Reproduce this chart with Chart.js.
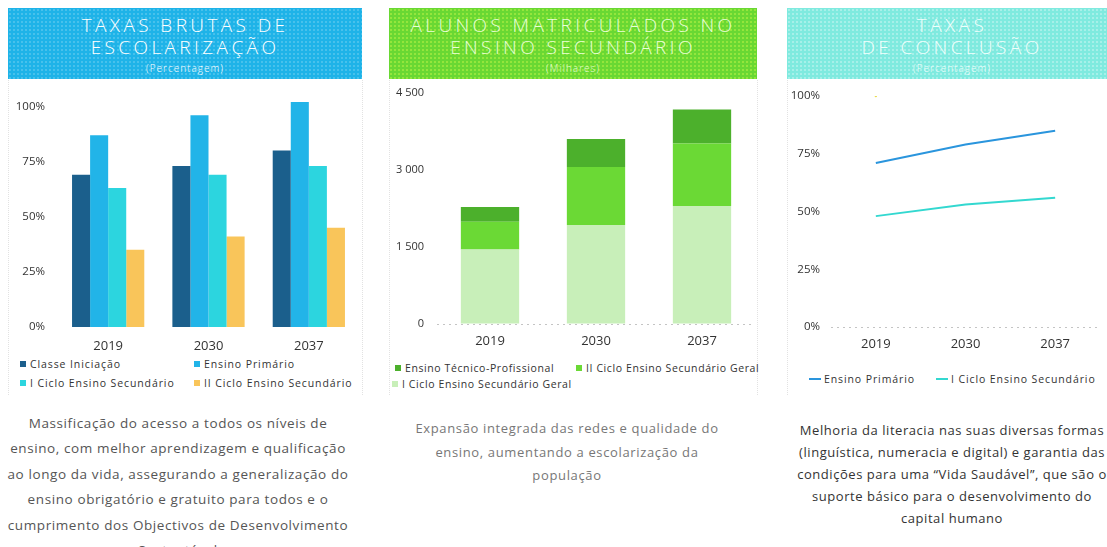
<!DOCTYPE html>
<html>
<head>
<meta charset="utf-8">
<script src="https://cdn.jsdelivr.net/npm/chart.js@4.4.1/dist/chart.umd.min.js"></script>
<style>
html,body{margin:0;padding:0;background:#fff;}
body{width:1107px;height:547px;overflow:hidden;position:relative;font-family:"Open Sans",sans-serif;}
.hdr{position:absolute;top:8px;height:71px;color:#fff;text-align:center;font-weight:300;white-space:nowrap;overflow:hidden;box-sizing:border-box;padding-top:6px;}
.hdr .t{font-size:19px;letter-spacing:3.4px;line-height:22px;}
.hdr .s{font-size:10px;letter-spacing:1px;line-height:14px;margin-top:3px;}
#h1{left:8px;width:354px;background-color:#1eb3e8;background-image:radial-gradient(rgba(255,255,255,0.18) 0.8px,transparent 1.2px);background-size:4px 4px;}
#h2{left:389px;width:368px;background-color:#69d833;background-image:radial-gradient(rgba(230,255,80,0.35) 0.8px,transparent 1.2px);background-size:4px 4px;color:#eaffd8;}
#h3{left:787px;width:330px;background-color:#7feadf;background-image:radial-gradient(rgba(255,255,255,0.3) 0.8px,transparent 1.2px);background-size:4px 4px;color:#f0fffc;}
.frame{position:absolute;top:80px;height:315px;border-left:1px dotted #e2e2e2;border-right:1px dotted #e2e2e2;box-sizing:border-box;}
.box{position:absolute;}
.leg{position:absolute;font-size:10.5px;letter-spacing:0.9px;color:#333;white-space:nowrap;line-height:12px;}
.leg.l2{letter-spacing:0.6px;}
.leg .sq{display:inline-block;width:6px;height:6px;margin-right:4px;vertical-align:1px;}
.leg .ln{display:inline-block;width:12px;height:2px;margin-right:3px;vertical-align:3px;}
.txt{position:absolute;text-align:center;white-space:nowrap;}
</style>
</head>
<body>
<div id="h1" class="hdr"><div class="t">TAXAS BRUTAS DE</div><div class="t">ESCOLARIZAÇÃO</div><div class="s">(Percentagem)</div></div>
<div id="h2" class="hdr"><div class="t">ALUNOS MATRICULADOS NO</div><div class="t">ENSINO SECUNDÁRIO</div><div class="s">(Milhares)</div></div>
<div id="h3" class="hdr"><div class="t">TAXAS</div><div class="t">DE CONCLUSÃO</div><div class="s">(Percentagem)</div></div>

<div class="frame" style="left:8px;width:355px;"></div>
<div class="frame" style="left:389px;width:369px;"></div>
<div class="frame" style="left:787px;width:330px;border-right:none;"></div>

<div class="box" style="left:8px;top:88px;width:354px;height:267px;"><canvas id="c1"></canvas></div>
<div class="box" style="left:389px;top:84px;width:368px;height:266px;"><canvas id="c2"></canvas></div>
<div class="box" style="left:787px;top:84px;width:320px;height:271px;"><canvas id="c3"></canvas></div>

<div id="legends"></div>

<div class="txt" style="left:-12px;width:380px;top:410.5px;font-size:13.5px;line-height:25.5px;color:#555;letter-spacing:0.6px;">Massificação do acesso a todos os níveis de<br>ensino, com melhor aprendizagem e qualificação<br>ao longo da vida, assegurando a generalização do<br>ensino obrigatório e gratuito para todos e o<br>cumprimento dos Objectivos de Desenvolvimento<br>Sustentável</div>
<div class="txt" style="left:377px;width:380px;top:417px;font-size:13px;line-height:23.5px;color:#777;letter-spacing:0.65px;">Expansão integrada das redes e qualidade do<br>ensino, aumentando a escolarização da<br>população</div>
<div class="txt" style="left:762px;width:380px;top:419px;font-size:13px;line-height:22px;color:#333;letter-spacing:0.55px;">Melhoria da literacia nas suas diversas formas<br>(linguística, numeracia e digital) e garantia das<br>condições para uma “Vida Saudável”, que são o<br>suporte básico para o desenvolvimento do<br>capital humano</div>

<script>
// ---------- DATA ----------
const years = ['2019', '2030', '2037'];

// Chart 1: Taxas brutas de escolarização (%)
const pctTicks = [0, 25, 50, 75, 100];
const pctTickLabels = ['0%', '25%', '50%', '75%', '100%'];
const seriesNames1 = ['Classe Iniciação', 'Ensino Primário', 'I Ciclo Ensino Secundário', 'II Ciclo Ensino Secundário'];
const classeIniciacao = [69, 73, 80];
const ensinoPrimario = [87, 96, 102];
const iCicloSecundario = [63, 69, 73];
const iiCicloSecundario = [35, 41, 45];

// Chart 2: Alunos matriculados no ensino secundário (milhares)
const milTicks = [0, 1500, 3000, 4500];
const milTickLabels = ['0', '1 500', '3 000', '4 500'];
const seriesNames2 = ['Ensino Técnico-Profissional', 'II Ciclo Ensino Secundário Geral', 'I Ciclo Ensino Secundário Geral'];
const tecnicoProfissional = [290, 545, 665];
const iiCicloGeral = [540, 1130, 1215];
const iCicloGeral = [1450, 1930, 2300];

// Chart 3: Taxas de conclusão (%)
const seriesNames3 = ['Ensino Primário', 'I Ciclo Ensino Secundário'];
const conclusaoPrimario = [71, 79, 85];
const conclusaoICiclo = [48, 53, 56];
const conclusaoPontoIsolado = [100, null, null];

// ---------- STYLE ----------
Chart.defaults.font.family = '"Open Sans", sans-serif';
Chart.defaults.color = '#333';
Chart.defaults.animation = false;

const fixedTicks = (vals) => (scale) => { scale.ticks = vals.map(v => ({ value: v })); };
const fitY = (w) => (s) => { s.width = w; s.paddingTop = 0; s.paddingBottom = 0; };
const fitX = (h) => (s) => { s.height = h; s.paddingLeft = 0; s.paddingRight = 0; };
const baselineGrid = () => ({
  display: true, drawTicks: false,
  color: (c) => (c.tick && c.tick.value === 0 ? '#c4c4c4' : 'rgba(0,0,0,0)'),
  lineWidth: 1
});

// Chart 1
const chart1 = new Chart(document.getElementById('c1'), {
  type: 'bar',
  data: {
    labels: years,
    datasets: [
      { label: seriesNames1[0], data: classeIniciacao, backgroundColor: '#1b5f8c' },
      { label: seriesNames1[1], data: ensinoPrimario, backgroundColor: '#22b4e8' },
      { label: seriesNames1[2], data: iCicloSecundario, backgroundColor: '#2cd5df' },
      { label: seriesNames1[3], data: iiCicloSecundario, backgroundColor: '#f9c55a' }
    ]
  },
  options: {
    responsive: true, maintainAspectRatio: false,
    layout: { padding: { top: 7.5, right: 3, left: 0, bottom: 0 } },
    datasets: { bar: { categoryPercentage: 0.72, barPercentage: 1.0 } },
    plugins: { legend: { display: false }, tooltip: { enabled: false } },
    scales: {
      x: {
        grid: { display: false, drawTicks: false }, border: { display: false },
        ticks: { padding: 11, font: { size: 13 }, color: '#333' },
        afterFit: fitX(28)
      },
      y: {
        min: 0, max: 105,
        grid: { display: false, drawTicks: false }, border: { display: false },
        afterBuildTicks: fixedTicks(pctTicks),
        ticks: { padding: 13, font: { size: 11.5 }, color: '#333', callback: (v, i) => pctTickLabels[i] },
        afterFit: fitY(50)
      }
    }
  }
});

// Chart 2 (stacked; first dataset at the bottom)
const chart2 = new Chart(document.getElementById('c2'), {
  type: 'bar',
  data: {
    labels: years,
    datasets: [
      { label: seriesNames2[2], data: iCicloGeral, backgroundColor: '#c8efb9' },
      { label: seriesNames2[1], data: iiCicloGeral, backgroundColor: '#6bd935' },
      { label: seriesNames2[0], data: tecnicoProfissional, backgroundColor: '#4cb02c' }
    ]
  },
  options: {
    responsive: true, maintainAspectRatio: false,
    layout: { padding: { top: 9, right: 2, left: 0, bottom: 0 } },
    datasets: { bar: { categoryPercentage: 1.0, barPercentage: 0.55 } },
    plugins: { legend: { display: false }, tooltip: { enabled: false } },
    scales: {
      x: {
        stacked: true,
        grid: { display: false, drawTicks: false }, border: { display: false },
        ticks: { padding: 9, font: { size: 13 }, color: '#333' },
        afterFit: fitX(26)
      },
      y: {
        stacked: true, min: 0, max: 4500,
        grid: baselineGrid(), border: { display: false, dash: [2, 4] },
        afterBuildTicks: fixedTicks(milTicks),
        ticks: { padding: 13, font: { size: 11 }, color: '#333', callback: (v, i) => milTickLabels[i] },
        afterFit: fitY(48)
      }
    }
  }
});

// Chart 3
const chart3 = new Chart(document.getElementById('c3'), {
  type: 'line',
  data: {
    labels: years,
    datasets: [
      { label: seriesNames3[0], data: conclusaoPrimario, borderColor: '#2a95dd', backgroundColor: '#2a95dd', borderWidth: 2, pointRadius: 0, tension: 0 },
      { label: seriesNames3[1], data: conclusaoICiclo, borderColor: '#33d8d0', backgroundColor: '#33d8d0', borderWidth: 2, pointRadius: 0, tension: 0 },
      { label: '', data: conclusaoPontoIsolado, borderColor: '#e8dc50', backgroundColor: '#e8dc50', borderWidth: 0, pointRadius: 1.2, showLine: false }
    ]
  },
  options: {
    responsive: true, maintainAspectRatio: false,
    layout: { padding: { top: 12, right: 7, left: 0, bottom: 0 }, autoPadding: false },
    plugins: { legend: { display: false }, tooltip: { enabled: false } },
    scales: {
      x: {
        offset: true,
        grid: { display: false, drawTicks: false }, border: { display: false },
        ticks: { padding: 9, font: { size: 13 }, color: '#333' },
        afterFit: fitX(28)
      },
      y: {
        min: 0, max: 100,
        grid: baselineGrid(), border: { display: false, dash: [2, 4] },
        afterBuildTicks: fixedTicks(pctTicks),
        ticks: { padding: 11, font: { size: 11.5 }, color: '#333', callback: (v, i) => pctTickLabels[i] },
        afterFit: fitY(44)
      }
    }
  }
});

// dotted baseline gridlines
[chart2, chart3].forEach(ch => { ch.options.scales.y.grid.borderDash = [2, 4]; ch.update(); });

// ---------- HTML LEGENDS (labels/colours taken from the charts) ----------
const legRoot = document.getElementById('legends');
function addLegend(chart, order, positions, kind, extraClass) {
  order.forEach((dsIndex, k) => {
    const ds = chart.data.datasets[dsIndex];
    const el = document.createElement('div');
    el.className = 'leg' + (extraClass ? ' ' + extraClass : '');
    el.style.left = positions[k][0] + 'px';
    el.style.top = positions[k][1] + 'px';
    const mk = document.createElement('span');
    mk.className = kind === 'line' ? 'ln' : 'sq';
    mk.style.background = kind === 'line' ? ds.borderColor : ds.backgroundColor;
    el.appendChild(mk);
    el.appendChild(document.createTextNode(ds.label));
    legRoot.appendChild(el);
  });
}
addLegend(chart1, [0, 1, 2, 3], [[20, 358], [194, 358], [20, 377], [194, 377]], 'sq');
addLegend(chart2, [2, 1, 0], [[395, 362], [576, 362], [392, 378]], 'sq', 'l2');
addLegend(chart3, [0, 1], [[809, 373], [936, 373]], 'line');
</script>
</body>
</html>
